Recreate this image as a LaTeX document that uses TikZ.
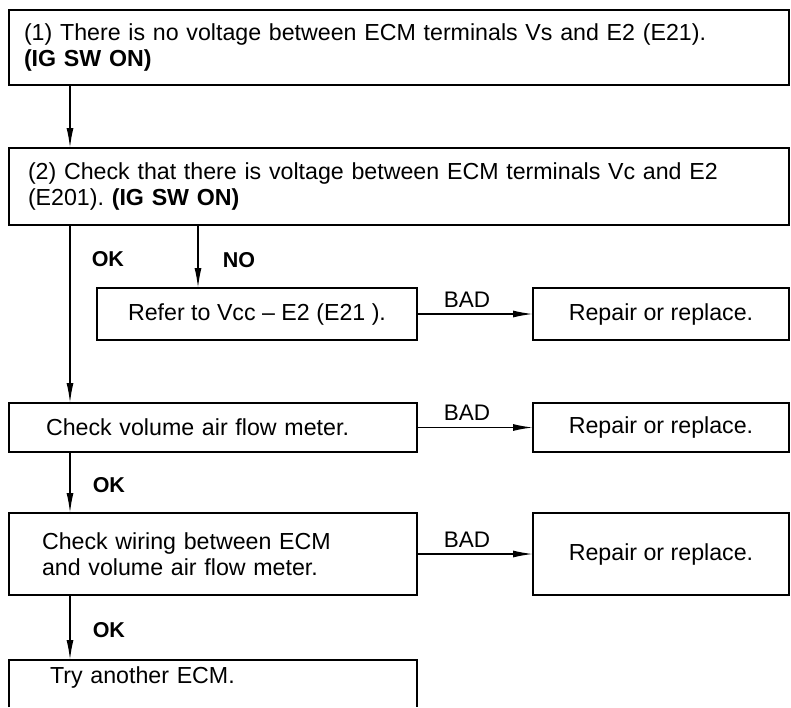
\documentclass[tikz,border=0pt]{standalone}
\usepackage{fontspec}
\setmainfont{Liberation Sans}
\usepackage{tikz}
\usetikzlibrary{arrows.meta,positioning}

\begin{document}
\frenchspacing
\begin{tikzpicture}[
  font=\fontsize{23.2}{25.5}\selectfont,
  box/.style={draw, line width=2.8pt, anchor=north west, outer sep=0pt,
              inner ysep=0pt},
  lbox/.style={box, align=left},
  cbox/.style={box, align=center, minimum width=#1},
  arr/.style={-{Latex[length=20pt,width=7pt]}, line width=1.5pt},
  tag/.style={font=\fontsize{21.5}{24}\selectfont\bfseries, inner sep=0pt},
  bad/.style={font=\fontsize{22.5}{24}\selectfont, inner sep=0pt}
]
\useasboundingbox (0,0) rectangle (791pt,-707pt);
\coordinate (floor) at (0,-707pt);
\node[lbox, text width=750pt, inner xsep=15pt, minimum height=75pt] (q1) at (9pt,-10pt)
  {(1) There is no voltage between ECM terminals Vs and E2 (E21).\\ \textbf{(IG SW ON)}};
\node[lbox, text width=742pt, inner xsep=19pt, minimum height=77pt,
      below=63pt of q1.south west, anchor=north west] (q2)
  {(2) Check that there is voltage between ECM terminals Vc and E2\\ (E201). \textbf{(IG SW ON)}};
\node[cbox=320pt, minimum height=52pt, below right=63pt and 88pt of q2.south west] (refer)
  {Refer to Vcc -- E2 (E21 ).};
\node[cbox=256pt, minimum height=52pt, right=116pt of refer.north east, anchor=north west] (fix1)
  {Repair or replace.};
\node[lbox, text width=334pt, inner xsep=37pt, minimum height=49pt,
      below=178pt of q2.south west, anchor=north west] (vaf)
  {Check volume air flow meter.};
\node[cbox=256pt, minimum height=49pt, right=116pt of vaf.north east, anchor=north west] (fix2)
  {Repair or replace.};
\node[lbox, text width=342pt, inner xsep=33pt, minimum height=82pt,
      below=61pt of vaf.south west, anchor=north west] (wire)
  {Check wiring between ECM\\ and volume air flow meter.};
\node[cbox=256pt, minimum height=82pt, right=116pt of wire.north east, anchor=north west] (fix3)
  {Repair or replace.};
\node[lbox, draw=none, text width=326pt, inner xsep=41pt, minimum height=35pt,
      below=65pt of wire.south west, anchor=north west] (ecm)
  {Try another ECM.};
\draw[line width=2.8pt] (ecm.west |- floor) |- (ecm.north east) -- (ecm.east |- floor);
\draw[arr] ([xshift=61pt]q1.south west) -- ([xshift=61pt]q2.north west);
\draw[arr] ([xshift=61pt]q2.south west) -- node[tag, pos=0.19, right=21pt] (ok1) {OK}
  ([xshift=61pt]vaf.north west);
\draw[arr] ([xshift=189pt]q2.south west) -- node[tag, pos=0.55, right=24pt] (no) {NO}
  ([xshift=101pt]refer.north west);
\draw[arr] (refer) -- node[bad, pos=0.43, above=6pt] (bad1) {BAD} (fix1);
\draw[arr] (vaf) -- node[bad, pos=0.43, above=6pt] (bad2) {BAD} (fix2);
\draw[arr] (wire) -- node[bad, pos=0.43, above=6pt] (bad3) {BAD} (fix3);
\draw[arr] ([xshift=61pt]vaf.south west) -- node[tag, pos=0.55, right=22pt] (ok2) {OK}
  ([xshift=61pt]wire.north west);
\draw[arr] ([xshift=61pt]wire.south west) -- node[tag, pos=0.54, right=22pt] (ok3) {OK}
  ([xshift=61pt]ecm.north west);
\end{tikzpicture}
\end{document}
